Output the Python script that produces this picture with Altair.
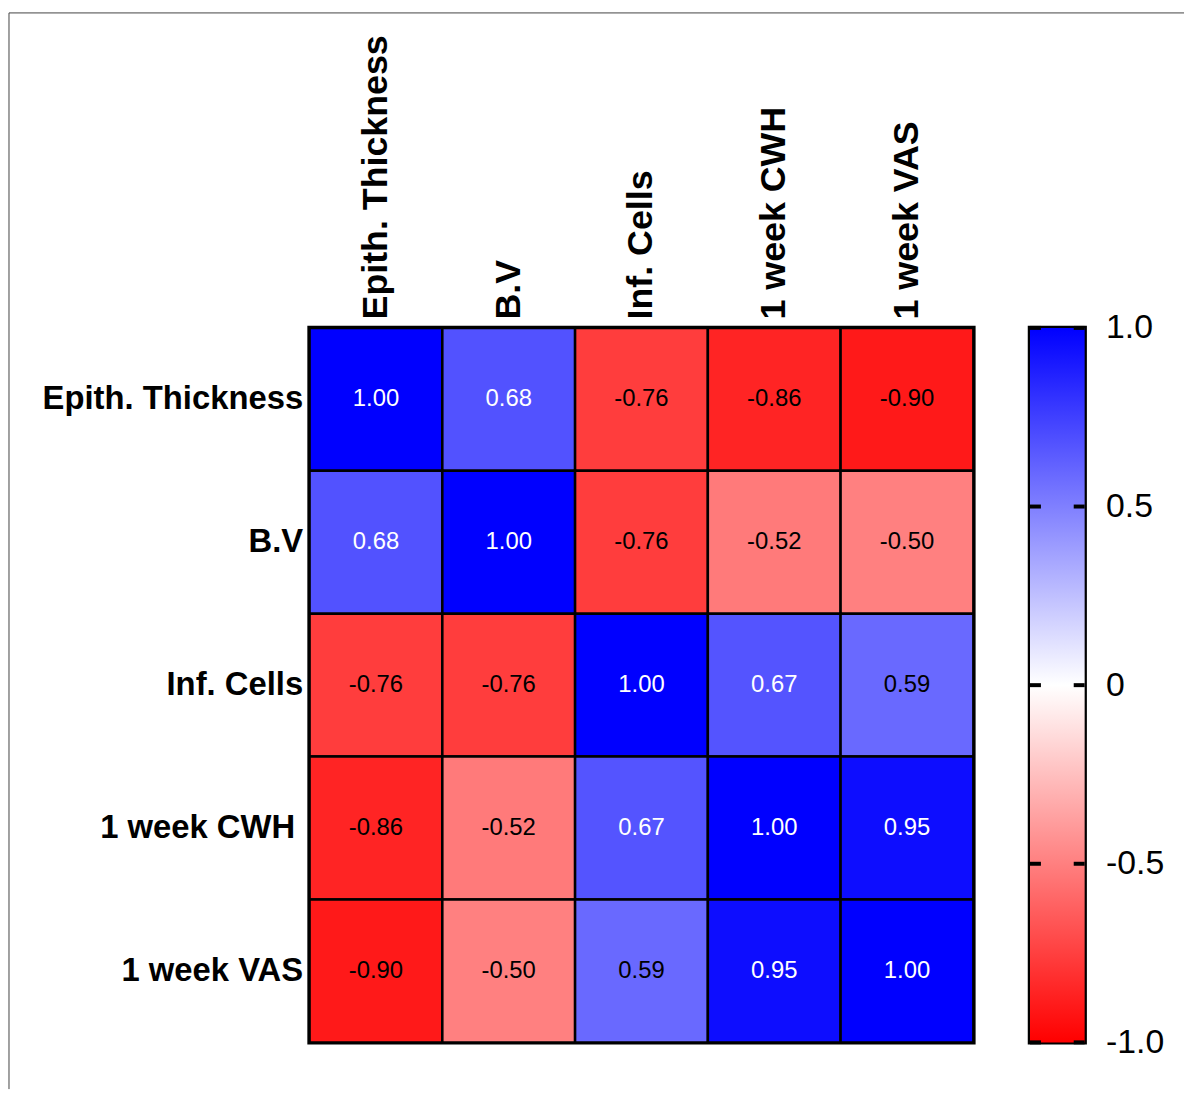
import altair as alt
import pandas as pd

variables = ["Epith. Thickness", "B.V", "Inf. Cells", "1 week CWH", "1 week VAS"]
matrix = [
    [1.00, 0.68, -0.76, -0.86, -0.90],
    [0.68, 1.00, -0.76, -0.52, -0.50],
    [-0.76, -0.76, 1.00, 0.67, 0.59],
    [-0.86, -0.52, 0.67, 1.00, 0.95],
    [-0.90, -0.50, 0.59, 0.95, 1.00],
]
bar_ticks = [-1.0, -0.5, 0.0, 0.5, 1.0]

FONT = "Liberation Sans"

rows = []
for i, rname in enumerate(variables):
    for j, cname in enumerate(variables):
        v = matrix[i][j]
        rows.append({"row": rname, "col": cname, "r": v, "lab": f"{v:.2f}"})
df = pd.DataFrame(rows)

W, H = 668, 719

color_scale = alt.Scale(domain=[-1, 0, 1], range=["#ff0000", "#ffffff", "#0000ff"], interpolate="rgb")

base = alt.Chart(df).encode(
    x=alt.X("col:N", sort=variables, scale=alt.Scale(paddingInner=0, paddingOuter=0),
            axis=alt.Axis(orient="top", title=None, labelAngle=-90, labelFont=FONT,
                          labelFontSize=36, labelFontWeight="bold", labelColor="black",
                          ticks=False, domain=False, labelPadding=9, labelLimit=500)),
    y=alt.Y("row:N", sort=variables, scale=alt.Scale(paddingInner=0, paddingOuter=0),
            axis=alt.Axis(title=None, labelFont=FONT, labelFontSize=33, labelFontWeight="bold",
                          labelColor="black", ticks=False, domain=False,
                          labelPadding={"condition": {"test": "datum.value === '1 week CWH'", "value": 15},
                                        "value": 7},
                          labelLimit=500)),
)

cells = base.mark_rect(stroke="black", strokeWidth=2.5).encode(
    color=alt.Color("r:Q", scale=color_scale, legend=None)
)
texts = base.mark_text(font=FONT, fontSize=24).encode(
    text=alt.Text("lab:N"),
    color=alt.condition(alt.datum.r >= 0.6, alt.value("white"), alt.value("black")),
)

dummy = alt.Data(values=[{"k": 0}])
frame_top = alt.Chart(dummy).mark_rule(color="#444444", strokeWidth=1).encode(
    x=alt.value(-302.5), x2=alt.value(880), y=alt.value(-317)
)
frame_left = alt.Chart(dummy).mark_rule(color="#444444", strokeWidth=1).encode(
    x=alt.value(-302.5), y=alt.value(-317), y2=alt.value(766)
)

heat = alt.layer(cells, texts, frame_top, frame_left).properties(width=W, height=H)

bar_df = pd.DataFrame({"lo": [-1.0], "hi": [1.0]})
gradient = alt.LinearGradient(
    gradient="linear",
    stops=[alt.GradientStop(color="#ff0000", offset=0),
           alt.GradientStop(color="#ffffff", offset=0.5),
           alt.GradientStop(color="#0000ff", offset=1)],
    x1=0, x2=0, y1=1, y2=0,
)
ybar = alt.Scale(domain=[-1, 1], nice=False, zero=False)
bar_rect = alt.Chart(bar_df).mark_rect(color=gradient).encode(
    y=alt.Y("lo:Q", scale=ybar,
            axis=alt.Axis(orient="right", title=None, values=bar_ticks,
                          labelExpr="datum.value == 0 ? '0' : replace(format(datum.value, '.1f'), '\u2212', '-')",
                          labelFont=FONT, labelFontSize=34, labelColor="black",
                          ticks=False, domain=False, grid=False, labelPadding=21)),
    y2="hi:Q",
    x=alt.value(0), x2=alt.value(55),
)
tick_df = pd.DataFrame({"v": bar_ticks})
ticks_left = alt.Chart(tick_df).mark_rule(color="black", strokeWidth=4).encode(
    y=alt.Y("v:Q", scale=ybar), x=alt.value(0), x2=alt.value(11)
)
ticks_right = alt.Chart(tick_df).mark_rule(color="black", strokeWidth=4).encode(
    y=alt.Y("v:Q", scale=ybar), x=alt.value(44), x2=alt.value(55)
)
colorbar = alt.layer(bar_rect, ticks_left, ticks_right).properties(width=55, height=H)

chart = alt.hconcat(heat, colorbar, spacing=57, bounds="flush").properties(
    padding={"left": -2.5, "top": -1.5, "right": 0, "bottom": 0},
    background="white",
).configure_view(stroke="black", strokeWidth=4.5)

chart.save("out.html", embed_options={"renderer": "svg", "actions": False})
